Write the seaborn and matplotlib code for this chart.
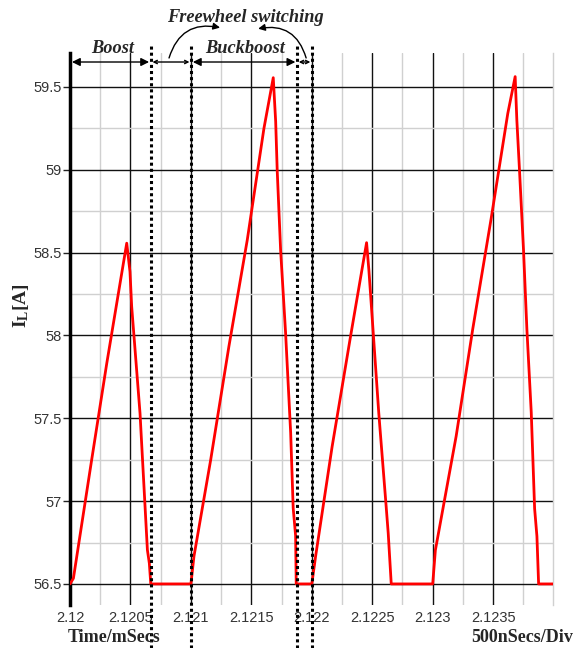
import numpy as np
import pandas as pd
import matplotlib
matplotlib.use("Agg")
import matplotlib.pyplot as plt
from matplotlib.ticker import MultipleLocator
import seaborn as sns

# inductor current (time in ms, current in A)
t_ms = [2.12, 2.120028, 2.120179, 2.120304, 2.120469, 2.120496, 2.120510,
        2.120579, 2.120640, 2.120656, 2.120668,
        2.121, 2.121025, 2.121163, 2.121314, 2.121466, 2.121604, 2.121681,
        2.121701, 2.121714, 2.121742, 2.121783, 2.121825, 2.121846, 2.121866,
        2.121871,
        2.122, 2.122031, 2.122168, 2.122320, 2.122453, 2.122472, 2.122494,
        2.122554, 2.122615, 2.122632, 2.122657,
        2.123, 2.123022, 2.123194, 2.123331, 2.123483, 2.123621, 2.123682,
        2.123696, 2.123718, 2.123751, 2.123779, 2.123815, 2.123843, 2.123862,
        2.123876, 2.123995]
i_L = [56.5, 56.534, 57.249, 57.832, 58.557, 58.385, 58.174,
       57.530, 56.705, 56.625, 56.5,
       56.5, 56.666, 57.247, 57.933, 58.576, 59.25, 59.556,
       59.292, 58.991, 58.514, 58.016, 57.413, 56.957, 56.791,
       56.5,
       56.5, 56.665, 57.329, 57.993, 58.560, 58.395, 58.164,
       57.530, 56.967, 56.806, 56.5,
       56.5, 56.704, 57.392, 58.038, 58.704, 59.340, 59.5625,
       59.298, 58.996, 58.517, 58.037, 57.537, 56.954, 56.788,
       56.5, 56.5]

x_ticks = [2.12, 2.1205, 2.121, 2.1215, 2.122, 2.1225, 2.123, 2.1235]
x_tick_labels = ["2.12", "2.1205", "2.121", "2.1215", "2.122", "2.1225", "2.123", "2.1235"]
y_ticks = [56.5, 57, 57.5, 58, 58.5, 59, 59.5]
y_tick_labels = ["56.5", "57", "57.5", "58", "58.5", "59", "59.5"]

# mode boundaries (dotted markers)
switch_t = [2.12067, 2.121, 2.12188, 2.122]

df = pd.DataFrame({"t": t_ms, "iL": i_L})

sns.set_style("white")
plt.rcParams["mathtext.fontset"] = "custom"
plt.rcParams["mathtext.rm"] = "Liberation Serif:bold"
plt.rcParams["mathtext.it"] = "Liberation Serif:bold"
plt.rcParams["mathtext.bf"] = "Liberation Serif:bold"

fig = plt.figure(figsize=(5.85, 6.48), dpi=100)
ax = fig.add_axes([0.1197, 0.0664, 0.8256, 0.8518])

sns.lineplot(data=df, x="t", y="iL", color="#ff0000", lw=2, sort=False,
             estimator=None, ax=ax, zorder=5)

ax.set_xlim(2.12, 2.123995)
ax.set_ylim(56.373, 59.705)
ax.xaxis.set_minor_locator(MultipleLocator(0.00025))
ax.yaxis.set_minor_locator(MultipleLocator(0.25))
ax.set_xticks(x_ticks)
ax.set_xticklabels(x_tick_labels)
ax.set_yticks(y_ticks)
ax.set_yticklabels(y_tick_labels)
ax.grid(which="minor", color="#d0d0d0", lw=1, zorder=0)
ax.grid(which="major", color="#111111", lw=1, zorder=1)
ax.set_axisbelow(True)

for lab in ax.get_xticklabels() + ax.get_yticklabels():
    lab.set_fontfamily("Liberation Sans")
    lab.set_fontsize(10.5)
    lab.set_color("#333333")
ax.tick_params(axis="x", which="both", length=0, pad=4)
ax.tick_params(axis="y", which="major", length=5, width=1, color="#222222", left=True, pad=1)
ax.tick_params(axis="y", which="minor", length=0)

for s in ["top", "bottom"]:
    ax.spines[s].set_visible(False)
ax.spines["right"].set_color("#d0d0d0")
ax.spines["right"].set_linewidth(1)
ax.spines["left"].set_color("black")
ax.spines["left"].set_linewidth(2.5)

ax.set_xlabel("")
ax.set_ylabel(r"I$_{L}$[A]", fontfamily="Liberation Serif", fontweight="bold", fontsize=14)
ax.yaxis.set_label_coords(-0.081, 0.543)

for t in switch_t:
    ax.axvline(t, ymin=-0.078, ymax=1.016, clip_on=False, color="black",
               ls=(0, (1, 1)), lw=2.2, zorder=6)

# mode annotations above the trace
tr = ax.get_xaxis_transform()
yarr = 0.9837
edges = [2.12] + switch_t
styles = ["<|-|>", "<->", "<|-|>", "<->"]
for a, b, st in zip(edges[:-1], edges[1:], styles):
    pad = 0.000016 if st == "<|-|>" else 0.000012
    ax.annotate("", xy=(b - pad, yarr), xytext=(a + pad, yarr), xycoords=tr,
                textcoords=tr, annotation_clip=False,
                arrowprops=dict(arrowstyle=st, color="black", lw=1,
                                mutation_scale=12 if st == "<|-|>" else 6,
                                shrinkA=0, shrinkB=0))

tfont = dict(fontfamily="Liberation Serif", fontweight="bold", fontstyle="italic",
             fontsize=13.2, ha="center", va="center", transform=tr, clip_on=False)
ax.text(2.120355, 1.009, "Boost", **tfont)
ax.text(2.121445, 1.009, "Buckboost", **tfont)
ax.text(2.12145, 1.065, "Freewheel switching", **tfont)

ax.annotate("", xy=(2.121241, 1.046), xytext=(2.120819, 0.991), xycoords=tr,
            textcoords=tr, annotation_clip=False,
            arrowprops=dict(arrowstyle="-|>", color="black", lw=1, mutation_scale=10,
                            connectionstyle="arc3,rad=-0.45", shrinkA=0, shrinkB=0))
ax.annotate("", xy=(2.121556, 1.044), xytext=(2.121953, 0.991), xycoords=tr,
            textcoords=tr, annotation_clip=False,
            arrowprops=dict(arrowstyle="-|>", color="black", lw=1, mutation_scale=10,
                            connectionstyle="arc3,rad=0.45", shrinkA=0, shrinkB=0))

fig.text(68 / 585, 1 - 637 / 648, "Time/mSecs", fontfamily="Liberation Serif",
         fontweight="bold", fontsize=13, ha="left", va="center")
fig.text(573 / 585, 1 - 637 / 648, "500nSecs/Div", fontfamily="Liberation Serif",
         fontweight="bold", fontsize=13, ha="right", va="center")

fig.savefig("out.png", dpi=100)
